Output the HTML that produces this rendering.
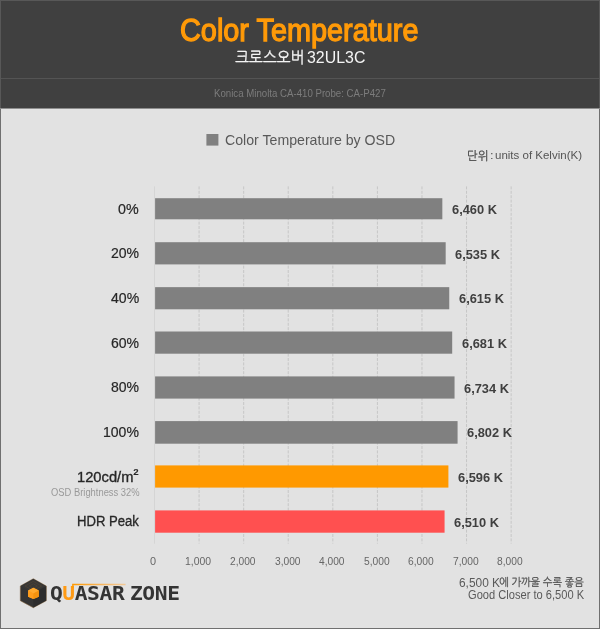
<!DOCTYPE html>
<html lang="ko">
<head>
<meta charset="utf-8">
<title>Color Temperature</title>
<style>
html,body{margin:0;padding:0;}
body{width:600px;height:629px;overflow:hidden;background:#e2e2e2;font-family:"Liberation Sans","NanumGothic",sans-serif;}
#wrap{position:relative;width:600px;height:629px;overflow:hidden;background:#e2e2e2;}
.sq{position:relative;top:-3px;}
.t{position:absolute;white-space:nowrap;line-height:1;transform-origin:0 0;}
#head{position:absolute;left:0;top:0;width:600px;height:108px;background:#404040;border-bottom:1px solid #8e8e8e;}
#sep{position:absolute;left:0;top:78px;width:600px;height:1px;background:#545454;}
#frame{position:absolute;left:0;top:109px;width:598px;height:519px;border:1px solid #707070;border-top:none;}
#hframe{position:absolute;left:0;top:0;width:598px;height:107px;border:1px solid #585858;border-bottom:none;}
</style>
</head>
<body>
<div id="wrap">
  <div id="head"></div>
  <div id="sep"></div>
  <div id="hframe"></div>
  <div class="t title" style="left:180.07px;top:14.64px;font-size:31px;color:#ff9a08;transform:scaleX(0.9308);-webkit-text-stroke:1.3px #ff9a08;">Color Temperature</div>
  <div class="t subk" style="left:234.78px;top:50.10px;font-size:16px;color:#f4f4f4;transform:scaleX(0.9205);-webkit-text-stroke:0.3px #f4f4f4;">크로스오버</div>
  <div class="t subl" style="left:307.36px;top:49.00px;font-size:17px;color:#f4f4f4;transform:scaleX(0.9358);">32UL3C</div>
  <div class="t probe" style="left:213.73px;top:87.68px;font-size:11px;color:#7c7c7c;transform:scaleX(0.8778);">Konica Minolta CA-410 Probe: CA-P427</div>

  <div class="t lgtx" style="left:225.01px;top:131.90px;font-size:15px;color:#595959;transform:scaleX(0.9426);">Color Temperature by OSD</div>
  <div class="t unitk" style="left:466.73px;top:149.93px;font-size:12px;color:#484848;transform:scaleX(0.9472);-webkit-text-stroke:0.25px #484848;">단위</div>
  <div class="t unitc" style="left:489.84px;top:150.38px;font-size:11px;color:#555;transform:scaleX(1.1650);">:</div>
  <div class="t unitl" style="left:495.00px;top:150.38px;font-size:11px;color:#555;transform:scaleX(1.0461);">units of Kelvin(K)</div>

  <svg id="plot" style="position:absolute;left:0;top:0" width="600" height="629" viewBox="0 0 600 629">
    <line x1="154.5" y1="186.4" x2="154.5" y2="543.7" stroke="#d5d5d5" stroke-width="1"/>
    <g stroke="#c6c6c6" stroke-width="1" stroke-dasharray="3 1.4">
    <line x1="199.08" y1="186.4" x2="199.08" y2="543.6"/>
    <line x1="243.66" y1="186.4" x2="243.66" y2="543.6"/>
    <line x1="288.24" y1="186.4" x2="288.24" y2="543.6"/>
    <line x1="332.82" y1="186.4" x2="332.82" y2="543.6"/>
    <line x1="377.40" y1="186.4" x2="377.40" y2="543.6"/>
    <line x1="421.98" y1="186.4" x2="421.98" y2="543.6"/>
    <line x1="466.56" y1="186.4" x2="466.56" y2="543.6"/>
    <line x1="511.14" y1="186.4" x2="511.14" y2="543.6"/>
    </g>
    <rect x="155.1" y="198.2" width="287.24" height="21.10" fill="#808080"/>
    <rect x="155.1" y="242.2" width="290.58" height="22.20" fill="#808080"/>
    <rect x="155.1" y="287.15" width="294.15" height="22.15" fill="#808080"/>
    <rect x="155.1" y="331.5" width="297.09" height="22.20" fill="#808080"/>
    <rect x="155.1" y="376.4" width="299.45" height="22.20" fill="#808080"/>
    <rect x="155.1" y="421.1" width="302.48" height="22.60" fill="#808080"/>
    <rect x="155.1" y="465.4" width="293.30" height="22.20" fill="#ff9900"/>
    <rect x="155.1" y="510.4" width="289.47" height="22.30" fill="#ff5050"/>
    <rect x="206.4" y="134" width="12" height="11.6" fill="#808080"/>
  </svg>

  <div class="t cat" style="left:118.19px;top:201.77px;font-size:14px;color:#272727;transform:scaleX(1.0196);-webkit-text-stroke:0.2px #272727;">0%</div>
  <div class="t val" style="left:451.95px;top:203.01px;font-size:13px;color:#404040;transform:scaleX(0.9875);font-weight:bold;">6,460 K</div>
  <div class="t cat" style="left:111.37px;top:246.42px;font-size:14px;color:#272727;transform:scaleX(1.0019);-webkit-text-stroke:0.2px #272727;">20%</div>
  <div class="t val" style="left:455.47px;top:247.66px;font-size:13px;color:#404040;transform:scaleX(0.9875);font-weight:bold;">6,535 K</div>
  <div class="t cat" style="left:110.91px;top:291.07px;font-size:14px;color:#272727;transform:scaleX(1.0048);-webkit-text-stroke:0.2px #272727;">40%</div>
  <div class="t val" style="left:458.97px;top:292.31px;font-size:13px;color:#404040;transform:scaleX(0.9875);font-weight:bold;">6,615 K</div>
  <div class="t cat" style="left:111.29px;top:335.72px;font-size:14px;color:#272727;transform:scaleX(1.0018);-webkit-text-stroke:0.2px #272727;">60%</div>
  <div class="t val" style="left:462.20px;top:336.96px;font-size:13px;color:#404040;transform:scaleX(0.9875);font-weight:bold;">6,681 K</div>
  <div class="t cat" style="left:110.55px;top:380.37px;font-size:14px;color:#272727;transform:scaleX(1.0007);-webkit-text-stroke:0.2px #272727;">80%</div>
  <div class="t val" style="left:464.38px;top:381.61px;font-size:13px;color:#404040;transform:scaleX(0.9875);font-weight:bold;">6,734 K</div>
  <div class="t cat" style="left:103.06px;top:425.02px;font-size:14px;color:#272727;transform:scaleX(1.0031);-webkit-text-stroke:0.2px #272727;">100%</div>
  <div class="t val" style="left:467.06px;top:426.26px;font-size:13px;color:#404040;transform:scaleX(0.9875);font-weight:bold;">6,802 K</div>
  <div class="t cat" style="left:77.07px;top:469.67px;font-size:14px;color:#272727;transform:scaleX(1.0512);-webkit-text-stroke:0.32px #272727;">120cd/m<span class="sq">²</span></div>
  <div class="t val" style="left:458.42px;top:470.91px;font-size:13px;color:#404040;transform:scaleX(0.9875);font-weight:bold;">6,596 K</div>
  <div class="t cat" style="left:77.01px;top:514.32px;font-size:14px;color:#272727;transform:scaleX(0.9363);-webkit-text-stroke:0.32px #272727;">HDR Peak</div>
  <div class="t val" style="left:454.43px;top:515.56px;font-size:13px;color:#404040;transform:scaleX(0.9875);font-weight:bold;">6,510 K</div>
  <div class="t osd" style="left:50.67px;top:487.63px;font-size:10px;color:#999;transform:scaleX(0.9379);">OSD Brightness 32%</div>

  <div class="t tick" style="left:150.24px;top:555.88px;font-size:11px;color:#666;transform:scaleX(0.9924);">0</div>
  <div class="t tick" style="left:184.69px;top:555.88px;font-size:11px;color:#666;transform:scaleX(0.9482);">1,000</div>
  <div class="t tick" style="left:230.33px;top:555.88px;font-size:11px;color:#666;transform:scaleX(0.9281);">2,000</div>
  <div class="t tick" style="left:274.80px;top:555.88px;font-size:11px;color:#666;transform:scaleX(0.9283);">3,000</div>
  <div class="t tick" style="left:318.81px;top:555.88px;font-size:11px;color:#666;transform:scaleX(0.9264);">4,000</div>
  <div class="t tick" style="left:363.92px;top:555.88px;font-size:11px;color:#666;transform:scaleX(0.9308);">5,000</div>
  <div class="t tick" style="left:407.97px;top:555.88px;font-size:11px;color:#666;transform:scaleX(0.9310);">6,000</div>
  <div class="t tick" style="left:453.01px;top:555.88px;font-size:11px;color:#666;transform:scaleX(0.9342);">7,000</div>
  <div class="t tick" style="left:497.02px;top:555.88px;font-size:11px;color:#666;transform:scaleX(0.9292);">8,000</div>

  <div class="t note" style="left:458.66px;top:576.84px;font-size:12px;color:#5a5a5a;transform:scaleX(0.9924);">6,500 K</div>
  <div class="t note" style="left:498.77px;top:577.18px;font-size:11px;color:#505050;transform:scaleX(0.9238);-webkit-text-stroke:0.25px #505050;">에 가까울 수록 좋음</div>
  <div class="t note" style="left:467.61px;top:589.09px;font-size:12px;color:#5a5a5a;transform:scaleX(0.9254);">Good Closer to 6,500 K</div>

  <svg id="logo" style="position:absolute;left:0;top:570px" width="200" height="50" viewBox="0 570 200 50">
    <defs>
      <linearGradient id="lg1" x1="0" y1="0" x2="1" y2="0">
        <stop offset="0" stop-color="#ff9900"/>
        <stop offset="1" stop-color="#ffb45a" stop-opacity="0.55"/>
      </linearGradient>
    </defs>
    <polygon points="33.3,578.7 46.3,586 46.3,600.7 33.3,607.7 20.3,600.7 20.3,586" fill="#343434" stroke="#8e6a40" stroke-width="0.55"/>
    <polygon points="33.3,593.2 46.1,586.2 46.1,600.6 33.3,607.5" fill="#2d2d2d"/>
    <polygon points="33.3,579.1 45.8,586 33.3,593 20.8,586" fill="#383736"/>
    <polygon points="33.3,581.4 41.6,586 33.3,590.6 25,586" fill="none" stroke="#5e4930" stroke-width="0.45"/>
    <polygon points="33.3,583.8 37.3,586 33.3,588.2 29.3,586" fill="none" stroke="#5e4930" stroke-width="0.45"/>
    <polygon points="33.4,587.7 38.8,590.5 38.8,596.7 33.4,599.1 28.1,596.7 28.1,590.5" fill="#ff9d1c"/>
    <polygon points="33.4,587.7 38.8,590.5 33.4,593.4 28.1,590.5" fill="#ffa92e"/>
    <polygon points="28.1,590.5 33.4,593.4 33.4,599.1 28.1,596.7" fill="#ff9d1c"/>
    <polygon points="38.8,590.5 33.4,593.4 33.4,599.1 38.8,596.7" fill="#f4920f"/>
    <text transform="translate(0 600.4) scale(1.07 1)" x="52.66 64.21 75.79 87.29 98.88 110.65 118.69 127.43 138.93 150.65 162.34" y="0" text-anchor="middle" font-family="'DejaVu Sans Mono','Liberation Mono',monospace" font-weight="bold" font-size="19.9" fill="#343434">Q<tspan fill="#ff9a14">U</tspan>ASAR ZONE</text>
    <path d="M72.9 588 V584.6 H125.6" fill="none" stroke="url(#lg1)" stroke-width="1.5"/>
  </svg>
  <div id="frame"></div>
</div>
</body>
</html>
